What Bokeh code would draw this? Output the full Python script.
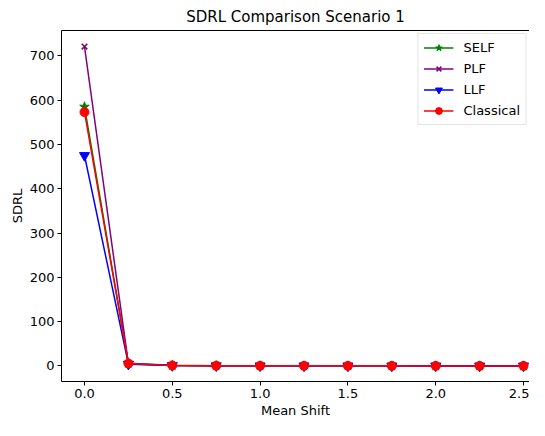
from bokeh.plotting import figure
from bokeh.models import FixedTicker, PrintfTickFormatter, Range1d, Legend, LegendItem, LinearAxis
from bokeh.embed import file_html
from bokeh.resources import INLINE

mean_shift = [0.0, 0.25, 0.5, 0.75, 1.0, 1.25, 1.5, 1.75, 2.0, 2.25, 2.5]
sdrl_self = [585, 6.0, 1.3, 0.6, 0.35, 0.2, 0.15, 0.1, 0.08, 0.06, 0.05]
sdrl_plf = [721, 5.0, 1.0, 0.5, 0.3, 0.2, 0.12, 0.1, 0.07, 0.05, 0.04]
sdrl_llf = [475, 4.0, 0.9, 0.45, 0.25, 0.15, 0.1, 0.08, 0.06, 0.05, 0.04]
sdrl_classical = [573, 5.5, 1.1, 0.55, 0.3, 0.2, 0.13, 0.1, 0.07, 0.05, 0.04]
x_ticks = [0.0, 0.5, 1.0, 1.5, 2.0, 2.5]
y_ticks = [0, 100, 200, 300, 400, 500, 600, 700]

FONT = "DejaVu Sans"

p = figure(width=529, height=420, output_backend="svg", toolbar_location=None,
           x_range=Range1d(-0.131, 2.534), y_range=Range1d(-35.2, 757.2),
           min_border_left=61, min_border_right=0, min_border_top=23, min_border_bottom=36)
p.title.text = "SDRL Comparison Scenario 1"
p.title.align = "center"
p.title.text_font = FONT
p.title.text_font_size = "15px"
p.title.text_font_style = "normal"
p.title.text_color = "black"
p.title.standoff = 10
p.xgrid.visible = False
p.ygrid.visible = False
p.outline_line_color = None
p.background_fill_color = "white"
p.border_fill_color = "white"

xa = p.below[0]
ya = p.left[0]
xa.ticker = FixedTicker(ticks=x_ticks)
xa.formatter = PrintfTickFormatter(format="%.1f")
ya.ticker = FixedTicker(ticks=y_ticks)
xa.axis_label = "Mean Shift"
ya.axis_label = "SDRL"
for ax in (xa, ya):
    ax.axis_label_text_font = FONT
    ax.axis_label_text_font_size = "13px"
    ax.axis_label_text_font_style = "normal"
    ax.axis_label_text_color = "black"
    ax.major_label_text_font = FONT
    ax.major_label_text_font_size = "13px"
    ax.major_label_text_color = "black"
    ax.minor_tick_line_color = None
    ax.major_tick_out = 4
    ax.major_tick_in = 0
    ax.axis_line_color = "black"
    ax.major_tick_line_color = "black"
    ax.major_label_standoff = 3
    ax.axis_label_standoff = 2

top_axis = LinearAxis(ticker=FixedTicker(ticks=[]), major_tick_out=0, major_tick_in=0,
                      major_label_standoff=0, minor_tick_line_color=None,
                      axis_line_color="black")
p.add_layout(top_axis, "above")

series = [
    ("SELF", sdrl_self, "#008000", "star", 10),
    ("PLF", sdrl_plf, "#800080", "x", 8),
    ("LLF", sdrl_llf, "#0000ff", "inverted_triangle", 10),
    ("Classical", sdrl_classical, "#ff0000", "circle", 9),
]
items = []
for name, vals, color, marker, size in series:
    l = p.line(mean_shift, vals, line_color=color, line_width=1.5)
    s = p.scatter(mean_shift, vals, marker=marker, size=size, fill_color=color,
                  line_color=color, line_width=1.5 if marker == "x" else 1)
    items.append(LegendItem(label=name, renderers=[l, s]))

legend = Legend(items=items, location="top_right")
legend.label_text_font = FONT
legend.label_text_font_size = "13px"
legend.label_text_color = "black"
legend.border_line_color = "#cccccc"
legend.border_line_width = 1
legend.background_fill_alpha = 0.8
legend.glyph_width = 30
legend.glyph_height = 17
legend.label_height = 17
legend.spacing = 4
legend.padding = 5
legend.margin = 3
legend.label_standoff = 10
p.add_layout(legend)

open("out.html", "w").write(file_html(p, INLINE))
